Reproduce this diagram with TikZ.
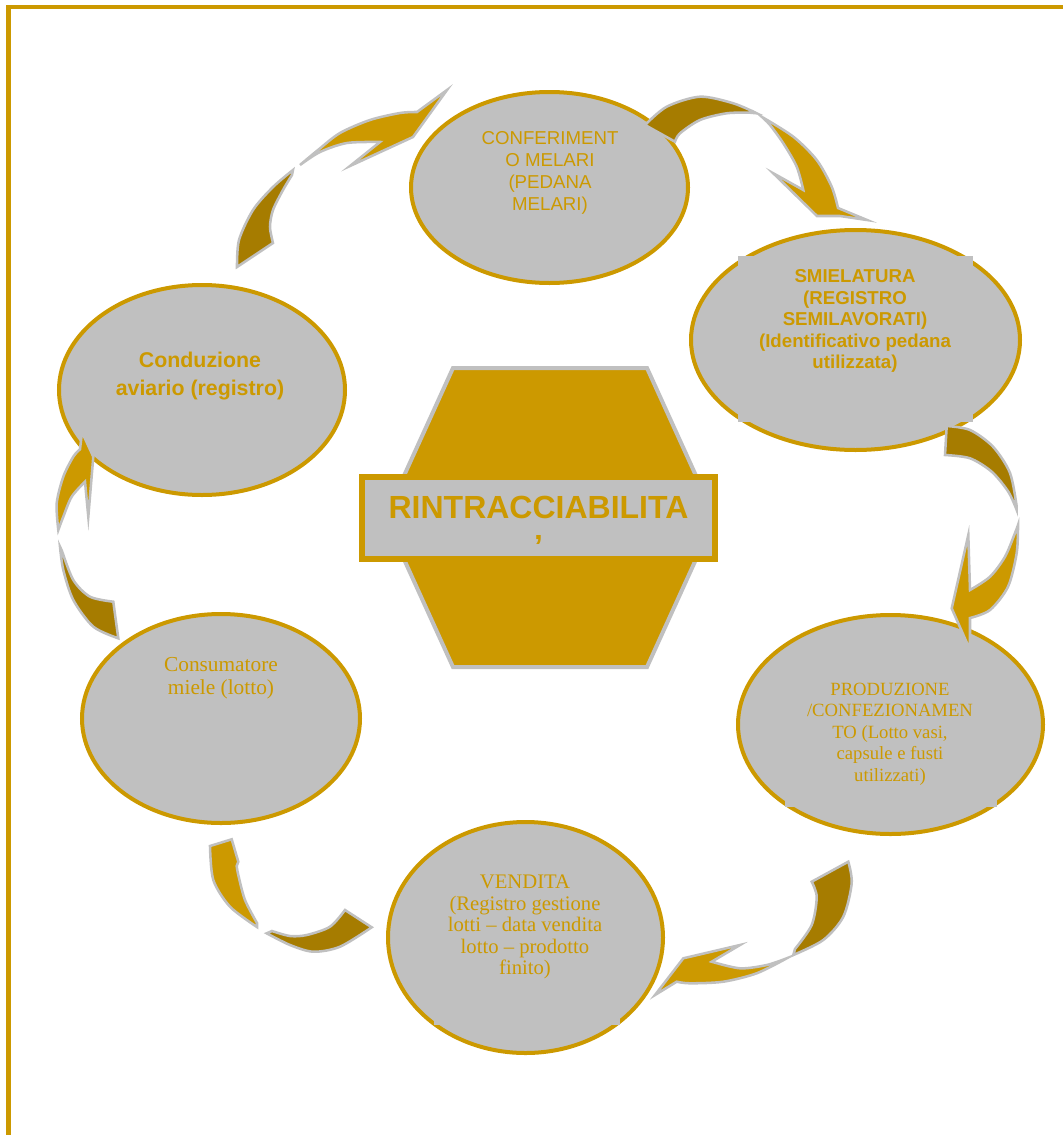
\documentclass[tikz,border=0pt]{standalone}
\usepackage{fontspec}
\setmainfont{Liberation Serif}
\setsansfont{Liberation Sans}
\usepackage{xcolor}
\usepackage{tikz}
\usetikzlibrary{shapes.geometric}

\definecolor{honey}{HTML}{CC9900}
\definecolor{darkhoney}{HTML}{A67C00}
\definecolor{cellgrey}{HTML}{C0C0C0}

\tikzset{
  stage/.style={ellipse, draw=honey, fill=cellgrey, line width=3pt, inner sep=0pt},
  textbox/.style={fill=cellgrey},
  blade/.style={draw=cellgrey, line width=1.9pt, line join=miter, miter limit=25},
  sanstext/.style={font=\sffamily\fontsize{14}{16.5}\selectfont, text=honey, align=center, inner sep=0pt},
  boldtext/.style={sanstext, font=\sffamily\bfseries\fontsize{14}{16.1}\selectfont},
  seriftext/.style={font=\rmfamily\fontsize{14}{16.1}\selectfont, text=honey, align=center, inner sep=0pt},
}

\begin{document}
\begin{tikzpicture}[x=0.75pt, y=-0.75pt]
  \useasboundingbox (0,0) rectangle (1063,1135);
  % Frame
  \draw[honey, line width=3.5pt] (8.5,1135) -- (8.5,7) -- (1063,7);

  % Stages
  \node[stage, minimum width=207.75pt, minimum height=143.25pt] (conferimento) at (549.5,187.5) {};
  \node[stage, minimum width=246.75pt, minimum height=165pt] (smielatura) at (855.5,340) {};
  \node[stage, minimum width=228.75pt, minimum height=164.25pt] (produzione) at (890.5,724.5) {};
  \node[stage, minimum width=206.25pt, minimum height=173.25pt] (vendita) at (525.5,937.5) {};
  \node[stage, minimum width=208.5pt, minimum height=156.75pt] (consumatore) at (221,718.5) {};
  \node[stage, minimum width=214.5pt, minimum height=157.5pt] (conduzione) at (202,390) {};
  % Text boxes
  \fill[textbox] (738,256) rectangle (973,422);
  \fill[textbox] (785,660) rectangle (997,807);
  \fill[textbox] (434,860) rectangle (620,1025);

  % Arrows: dark tail, light head
  \filldraw[blade, fill=darkhoney] plot[smooth] coordinates {(237,267) (239,240) (253,210) (273,187) (293,170)}
    -- plot[smooth] coordinates {(292,175) (283,190) (273,210) (270,227) (273,243)} -- cycle;
  \filldraw[blade, fill=honey] plot[smooth] coordinates {(300,165) (318,150) (340,133) (370,120) (400,113) (417,112)}
    -- (447,90) -- (413,137) -- (350,166)
    -- plot[smooth] coordinates {(380,142) (347,143) (320,152) (300,165)} -- cycle;

  \filldraw[blade, fill=darkhoney] plot[smooth] coordinates {(645,125) (666.7,106.7) (700,96.7) (733.3,103.3) (756.7,113.3)}
    -- plot[smooth] coordinates {(750,112.7) (726.7,113.3) (700,120) (680,133.3) (675,141.7)} -- cycle;
  \filldraw[blade, fill=honey] plot[smooth] coordinates {(762,117) (793.3,136.7) (816.7,160) (831.7,186.7) (838,208)}
    -- (867,220) -- (840,216) -- (817,216) -- (773.3,173.3)
    -- plot[smooth] coordinates {(803.3,190) (796.7,166.7) (783.3,143.3) (770,125) (762,117)} -- cycle;

  \filldraw[blade, fill=darkhoney] plot[smooth] coordinates {(946.7,426) (970,430) (993,446.7) (1010,473) (1016.7,506.7)}
    -- plot[smooth] coordinates {(1016.7,510) (1008.3,491.7) (991.7,471.7) (970,458.3) (945,455)} -- cycle;
  \filldraw[blade, fill=honey] plot[smooth] coordinates {(1018,525) (1016.7,553) (1008,586.7) (990,610) (970,618)}
    -- (970,650) -- (951.7,608.3) -- (968.3,535)
    -- plot[smooth] coordinates {(970,590) (990,576.7) (1005,556.7) (1015,533) (1018,525)} -- cycle;

  \filldraw[blade, fill=darkhoney] plot[smooth] coordinates {(848.3,861.7) (851.7,883.3) (843.3,916.7) (823.3,940) (793.3,955)}
    -- plot[smooth] coordinates {(795,949) (811.7,925) (816.7,897) (811.7,881.7)} -- cycle;
  \filldraw[blade, fill=honey] plot[smooth] coordinates {(786.7,958.3) (756.7,973.3) (723.3,981.7) (690,983.3) (676.7,981.7)}
    -- (655,995) -- (683.3,958.3) -- (740,945)
    -- plot[smooth] coordinates {(711.7,961.7) (740,968.3) (766.7,965) (786.7,958.3)} -- cycle;

  \filldraw[blade, fill=darkhoney] plot[smooth] coordinates {(371.7,927.3) (340,946.7) (313.3,951.7) (290,945) (266.7,933.3)}
    -- plot[smooth] coordinates {(272,931) (290,936) (306.7,935) (330,926.7) (345,910)} -- cycle;
  \filldraw[blade, fill=honey] plot[smooth] coordinates {(257,927) (230,906.7) (213.3,880) (210,846)}
    -- (231.7,839.3) -- (238.3,861.7)
    -- plot[smooth] coordinates {(236.7,866) (238.3,875) (245,900) (257,923)} -- cycle;

  \filldraw[blade, fill=darkhoney] plot[smooth] coordinates {(118.3,638.3) (93.3,626.7) (73.3,600) (63.3,570) (60,546.7)}
    -- plot[smooth] coordinates {(62,551) (73.3,580) (90,596.7) (113.3,601.7)} -- cycle;
  \filldraw[blade, fill=honey] plot[smooth] coordinates {(58.3,530) (56.7,503.3) (63.3,476.7) (73.3,456.7) (80,449.3)}
    -- (82,432) -- (93.3,456.7) -- (88.3,516.7)
    -- plot[smooth] coordinates {(85,481.7) (71.7,496.7) (63.3,516.7) (58.3,530)} -- cycle;

  % Labels
  \node[sanstext] (conferimento-txt) at (550,173) {CONFERIMENT\\O MELARI\\(PEDANA\\MELARI)};
  \node[boldtext] (smielatura-txt) at (855,321) {SMIELATURA\\(REGISTRO\\SEMILAVORATI)\\(Identificativo pedana\\utilizzata)};
  \node[seriftext] (produzione-txt) at (890,734) {PRODUZIONE\\/CONFEZIONAMEN\\TO (Lotto vasi,\\capsule e fusti\\utilizzati)};
  \node[seriftext, font=\rmfamily\fontsize{15.5}{16.1}\selectfont] (vendita-txt) at (525,927) {VENDITA\\(Registro gestione\\lotti – data vendita\\lotto – prodotto\\finito)};
  \node[seriftext, font=\rmfamily\fontsize{16}{17.25}\selectfont] (consumatore-txt) at (221,678) {Consumatore\\miele (lotto)};
  \node[boldtext, font=\sffamily\bfseries\fontsize{16}{21}\selectfont] (conduzione-txt) at (200,376) {Conduzione\\aviario (registro)};

  % Centre
  \filldraw[fill=honey, draw=cellgrey, line width=3pt] (453,368) -- (647,368) -- (715,517.5) -- (647,667)
    -- (453,667) -- (385,517.5) -- cycle;
  \node[draw=honey, fill=cellgrey, line width=4.5pt, minimum width=264.75pt, minimum height=61.5pt, inner sep=0pt]
    (centre) at (538.5,518) {};
  \node[boldtext, font=\sffamily\bfseries\fontsize{24}{29}\selectfont] (centre-txt) at (538.5,527) {RINTRACCIABILITA\\’};
\end{tikzpicture}
\end{document}
